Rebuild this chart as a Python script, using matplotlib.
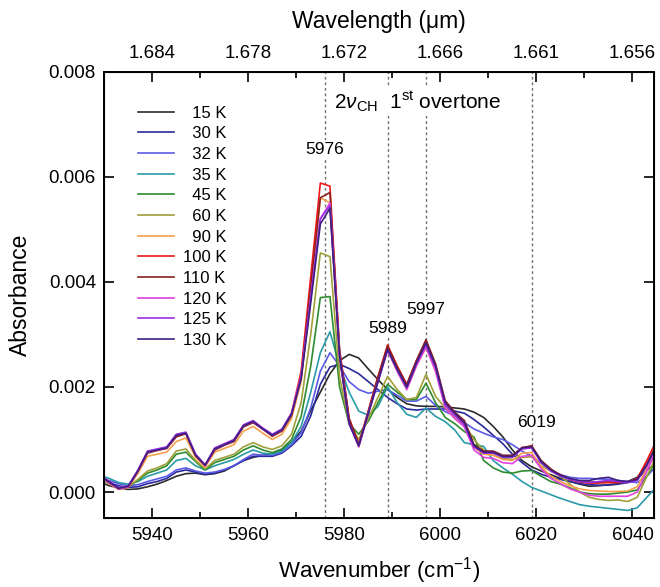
import numpy as np
import matplotlib
matplotlib.use("Agg")
import matplotlib.pyplot as plt
from matplotlib.ticker import MultipleLocator, FixedLocator, FixedFormatter

plt.rcParams['font.family'] = ['Liberation Sans', 'DejaVu Sans']
plt.rcParams['mathtext.fontset'] = 'custom'
plt.rcParams['mathtext.rm'] = 'Liberation Sans'
plt.rcParams['mathtext.it'] = 'Liberation Sans:italic'

# wavenumber grid (cm-1)
wavenumber = np.arange(5929, 6046, 2)

# absorbance x 1e4, one list per temperature
a15 = [2.0, 1.2, 0.8, 0.5, 0.6, 1.0, 1.5, 2.2, 3.0, 3.5, 3.6, 3.3, 3.5, 4.0, 5.0, 6.0, 6.6, 7.0, 7.2, 8.0,
       9.5, 11.6, 15.5, 19.0, 22.5, 25.0, 26.2, 25.5, 23.4, 21.4, 19.5, 18.0, 16.8, 16.4, 16.3, 16.3, 16.2, 16.0, 15.8, 15.2,
       14.2, 12.5, 10.5, 8.0, 6.0, 4.8, 4.0, 3.3, 2.6, 2.0, 1.5, 1.1, 1.2, 1.4, 1.6, 2.0, 2.8, 5.0, 7.0]
a30 = [2.4, 1.8, 1.2, 0.9, 1.0, 1.6, 2.0, 2.6, 3.8, 4.2, 3.8, 3.4, 3.6, 4.2, 5.0, 6.0, 6.8, 6.8, 6.8, 7.4,
       8.8, 10.6, 14.5, 20.5, 23.8, 24.3, 23.5, 22.5, 21.0, 19.5, 18.0, 16.8, 15.8, 15.6, 15.8, 15.8, 15.8, 15.4, 15.0, 13.8,
       12.4, 10.8, 9.2, 7.2, 5.6, 4.2, 3.4, 2.8, 2.4, 2.0, 1.6, 1.4, 1.3, 1.3, 1.5, 1.8, 2.5, 4.2, 5.5]
a32 = [2.8, 2.2, 1.6, 1.2, 1.4, 2.0, 2.5, 3.0, 4.2, 4.6, 4.0, 3.6, 3.8, 4.3, 5.0, 6.2, 7.2, 7.0, 7.0, 7.6,
       9.0, 11.3, 16.0, 23.0, 26.5, 24.0, 21.0, 19.5, 18.8, 19.2, 19.5, 18.4, 17.3, 17.3, 18.2, 16.5, 15.3, 14.5, 13.2, 12.0,
       11.2, 10.5, 10.0, 9.0, 7.8, 6.8, 5.5, 4.2, 3.3, 2.8, 2.6, 2.6, 2.5, 2.4, 2.2, 2.0, 1.8, 3.0, 5.0]
a35 = [3.2, 2.6, 1.8, 1.5, 2.0, 3.0, 3.6, 4.2, 6.0, 6.4, 5.0, 4.2, 5.0, 5.6, 6.2, 7.2, 8.0, 7.4, 7.2, 7.8,
       9.4, 12.5, 19.0, 26.5, 30.5, 24.0, 19.0, 15.4, 14.6, 16.3, 20.0, 17.0, 14.8, 14.2, 16.0, 14.4, 13.4, 11.8, 9.4, 9.0,
       8.7, 6.0, 4.6, 3.4, 2.0, 0.9, 0.2, -0.5, -1.2, -1.8, -2.4, -2.7, -2.9, -3.1, -3.3, -3.5, -3.0, -1.0, 1.0]
a45 = [2.8, 1.6, 0.8, 1.0, 2.2, 3.6, 4.2, 5.0, 7.2, 7.6, 5.8, 4.2, 5.6, 6.2, 6.8, 8.0, 8.8, 8.0, 7.5, 8.2,
       10.0, 14.4, 24.0, 37.0, 37.2, 20.0, 13.0, 11.0, 13.5, 17.0, 20.5, 19.0, 17.6, 17.6, 20.7, 17.0, 14.2, 13.0, 11.5, 10.5,
       6.0, 4.6, 3.8, 3.6, 4.0, 4.1, 3.0, 2.0, 1.5, 0.8, 0.0, -0.3, -0.4, -0.4, -0.2, 0.0, 0.4, 3.0, 6.0]
a60 = [3.0, 1.6, 0.6, 1.0, 2.4, 4.0, 4.6, 5.4, 7.8, 8.2, 6.0, 4.4, 6.0, 6.6, 7.2, 8.6, 9.4, 8.6, 8.1, 8.8,
       11.0, 17.0, 30.0, 45.5, 44.8, 22.0, 13.0, 10.0, 14.0, 18.0, 22.0, 19.5, 17.6, 18.0, 22.4, 18.2, 16.0, 14.0, 13.0, 10.0,
       8.0, 7.0, 6.4, 6.2, 6.6, 6.7, 5.0, 4.0, 3.0, 1.5, 0.0, -1.0, -1.4, -1.6, -1.5, -1.8, -1.0, 3.0, 7.0]
a90 = [3.0, 1.6, 0.5, 0.9, 3.5, 6.8, 7.2, 7.6, 9.6, 10.3, 6.6, 4.8, 7.6, 8.3, 9.0, 11.6, 12.5, 11.2, 10.0, 11.0,
       14.0, 21.0, 38.0, 56.0, 55.0, 26.0, 13.5, 8.6, 15.0, 21.5, 27.0, 23.0, 19.5, 24.0, 27.5, 23.0, 16.5, 14.5, 12.5, 8.5,
       7.2, 7.0, 6.2, 6.0, 7.4, 7.5, 4.8, 3.0, 2.0, 1.2, 0.6, 0.3, 0.2, 0.1, 0.1, 0.2, 1.0, 4.5, 8.5]
a100 = [3.2, 2.0, 0.6, 1.0, 4.0, 7.6, 8.0, 8.4, 10.6, 11.2, 7.0, 5.0, 8.2, 9.0, 9.8, 12.6, 13.4, 12.0, 10.8, 11.8,
        15.0, 23.0, 41.0, 58.8, 58.2, 27.0, 14.0, 9.2, 15.5, 22.0, 28.0, 24.0, 20.5, 25.0, 28.8, 24.0, 17.0, 15.0, 13.0, 8.8,
        7.6, 7.5, 6.8, 6.8, 8.5, 8.7, 5.8, 4.2, 3.3, 2.4, 1.9, 1.7, 1.7, 1.8, 1.8, 1.9, 2.6, 6.0, 9.8]
a110 = [3.0, 1.8, 0.6, 1.0, 4.0, 7.4, 7.9, 8.3, 10.5, 11.1, 7.0, 5.1, 8.0, 8.9, 9.6, 12.4, 13.2, 12.0, 10.6, 11.6,
        14.6, 22.0, 39.0, 56.0, 57.0, 27.0, 14.0, 9.0, 15.4, 21.8, 27.8, 23.8, 20.4, 25.0, 29.0, 24.4, 17.4, 15.2, 13.6, 9.0,
        7.8, 7.8, 7.0, 7.0, 8.4, 8.8, 6.0, 4.4, 3.2, 2.4, 2.0, 1.9, 1.9, 2.1, 2.0, 1.9, 2.4, 5.4, 9.0]
a120 = [3.0, 1.8, 0.6, 1.0, 4.0, 7.6, 8.0, 8.4, 10.8, 11.3, 7.2, 5.0, 8.2, 9.0, 9.8, 12.6, 13.4, 12.0, 10.8, 11.8,
        15.0, 22.0, 37.0, 52.0, 55.0, 26.0, 13.0, 8.6, 15.0, 21.0, 27.0, 23.0, 19.5, 24.0, 27.6, 23.0, 16.0, 14.0, 12.4, 8.0,
        6.6, 6.4, 5.6, 5.4, 6.8, 7.0, 4.4, 2.6, 1.6, 0.6, 0.0, -0.6, -0.8, -0.8, -0.8, -0.8, 0.0, 4.0, 8.0]
a125 = [3.4, 2.0, 0.8, 1.2, 4.2, 7.8, 8.2, 8.6, 11.0, 11.4, 7.2, 5.2, 8.4, 9.2, 10.0, 12.8, 13.6, 12.2, 11.0, 12.0,
        15.0, 22.0, 37.0, 52.0, 54.5, 26.0, 13.0, 8.8, 15.0, 21.0, 27.0, 23.2, 19.8, 24.4, 28.0, 23.6, 16.6, 14.6, 12.8, 8.6,
        7.4, 7.4, 6.6, 6.6, 8.2, 8.4, 5.6, 4.0, 3.0, 2.4, 2.0, 1.8, 2.0, 2.2, 2.0, 1.8, 2.2, 5.0, 8.6]
a130 = [3.2, 1.9, 0.7, 1.1, 4.0, 7.6, 8.0, 8.4, 10.8, 11.2, 7.0, 5.1, 8.2, 9.0, 9.8, 12.6, 13.4, 12.0, 10.8, 11.8,
        14.8, 21.5, 36.0, 51.0, 54.0, 26.0, 13.0, 8.8, 15.0, 21.0, 27.2, 23.4, 20.0, 24.6, 28.4, 24.0, 17.0, 15.0, 13.2, 8.8,
        7.6, 7.6, 6.8, 6.8, 8.4, 8.6, 5.8, 4.2, 3.2, 2.6, 2.2, 2.2, 2.6, 2.8, 2.2, 2.0, 2.4, 5.2, 8.8]

temps = ["15 K", "30 K", "32 K", "35 K", "45 K", "60 K", "90 K", "100 K", "110 K", "120 K", "125 K", "130 K"]
spectra = [a15, a30, a32, a35, a45, a60, a90, a100, a110, a120, a125, a130]
colors = ["#2b2b2b", "#2a2a9a", "#5a5ae6", "#2a9aa8", "#2e8b2e", "#a0a03a",
          "#f5a04a", "#f01818", "#8b2020", "#e040e0", "#9a30e6", "#3e1f80"]

# marked bands
bands = [5976, 5989, 5997, 6019]
band_labels = ["5976", "5989", "5997", "6019"]
band_label_pos = [(5976, 0.00651), (5989, 0.00312), (5997, 0.00347), (6020, 0.00132)]

# top axis: wavelength labels at the bottom ticks
top_ticks = [5940, 5960, 5980, 6000, 6020, 6040]
top_labels = ["1.684", "1.678", "1.672", "1.666", "1.661", "1.656"]

fig = plt.figure(figsize=(6.6, 5.87), dpi=100)
ax = fig.add_axes([0.158, 0.117, 0.833, 0.761])

for lab, vals, c in zip(temps, spectra, colors):
    ax.plot(wavenumber, np.array(vals) * 1e-4, color=c, lw=1.2, label=lab)

for b in bands:
    ax.axvline(b, color="#6e6e6e", ls=(0, (2, 2)), lw=1.0, zorder=0)

for t, (x, y) in zip(band_labels, band_label_pos):
    ax.text(x, y, t, ha="center", va="center", fontsize=12.5,
            bbox=dict(facecolor="white", edgecolor="none", pad=1.5))

ax.text(5977.8, 0.00743, r"2$\nu_{\rm CH}$  1$^{\rm st}$ overtone", ha="left", va="center",
        fontsize=15, bbox=dict(facecolor="white", edgecolor="none", pad=1.5))

ax.set_xlim(5930, 6044.5)
ax.set_ylim(-0.0005, 0.008)
ax.xaxis.set_major_locator(MultipleLocator(20))
ax.xaxis.set_minor_locator(MultipleLocator(10))
ax.yaxis.set_major_locator(MultipleLocator(0.002))
ax.yaxis.set_major_formatter(matplotlib.ticker.FormatStrFormatter("%.3f"))
ax.tick_params(axis="both", which="major", direction="in", length=7, width=1.2, labelsize=13.5, pad=6)
ax.tick_params(axis="x", which="minor", direction="in", length=4, width=1.2)
ax.tick_params(axis="y", which="both", right=True)
for s in ax.spines.values():
    s.set_linewidth(1.4)

ax.set_xlabel("Wavenumber (cm$^{-1}$)", fontsize=16, labelpad=8)
ax.set_ylabel("Absorbance", fontsize=16.5, labelpad=12)

top = ax.twiny()
top.set_xlim(ax.get_xlim())
top.xaxis.set_major_locator(FixedLocator(top_ticks))
top.xaxis.set_major_formatter(FixedFormatter(top_labels))
top.xaxis.set_minor_locator(MultipleLocator(10))
top.tick_params(axis="x", which="major", direction="in", length=7, width=1.2, labelsize=13.5, pad=7)
top.tick_params(axis="x", which="minor", direction="in", length=4, width=1.2)
top.set_xlabel("Wavelength (\u03bcm)", fontsize=16.5, labelpad=12)

leg_labels = [("\u2007" + t) if len(t) == 4 else t for t in temps]
handles, _ = ax.get_legend_handles_labels()
ax.legend(handles, leg_labels, loc="upper left", bbox_to_anchor=(0.062, 0.924), frameon=False,
          borderpad=0, borderaxespad=0,
          fontsize=12, handlelength=2.15, handletextpad=0.5, labelspacing=0.34)

fig.savefig("out.png", dpi=100)
